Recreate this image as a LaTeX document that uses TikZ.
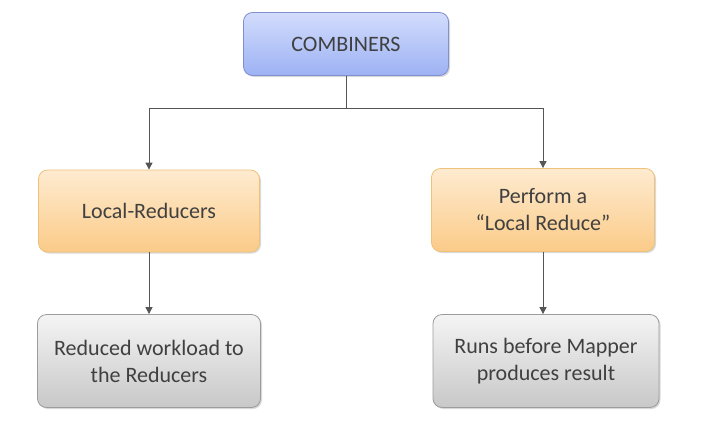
\documentclass[tikz,border=0pt]{standalone}
\usepackage{fontspec}
\setmainfont{Carlito}
\usetikzlibrary{shadows,arrows.meta}
\definecolor{txt}{HTML}{404040}
\definecolor{ln}{HTML}{555555}
\definecolor{blBorder}{HTML}{7F8FD0}
\definecolor{blueTop}{HTML}{D2DCFC}
\definecolor{blueBot}{HTML}{9DB2F4}
\definecolor{orBorder}{HTML}{EEC27A}
\definecolor{orTop}{HTML}{FEEBD0}
\definecolor{orBot}{HTML}{FBCB88}
\definecolor{grBorder}{HTML}{9C9C9C}
\definecolor{grTop}{HTML}{F4F4F4}
\definecolor{grBot}{HTML}{C8C8C8}
\tikzset{
  box/.style={rounded corners=9pt, draw, line width=0.8pt, align=center, text=txt,
    font=\fontsize{22}{27}\selectfont, inner sep=0pt,
    drop shadow={shadow xshift=1.5pt, shadow yshift=-1.5pt, opacity=0.3}},
  bluebox/.style={box, draw=blBorder, top color=blueTop, bottom color=blueBot},
  orangebox/.style={box, draw=orBorder, top color=orTop, bottom color=orBot},
  graybox/.style={box, draw=grBorder, top color=grTop, bottom color=grBot},
  conn/.style={draw=ln, line width=0.9pt},
  arr/.style={conn, -{Triangle[length=7pt,width=7pt]}},
}
\begin{document}
\begin{tikzpicture}[x=1pt,y=-1pt]
\useasboundingbox (0,0) rectangle (715,429);
\node[bluebox, minimum width=205pt, minimum height=63pt] (top) at (346,44) {COMBINERS};
\node[orangebox, minimum width=221pt, minimum height=82pt] (lr) at (149,211) {Local-Reducers};
\node[orangebox, minimum width=223pt, minimum height=83pt] (pl) at (543,210) {Perform a\\``Local Reduce''};
\node[graybox, minimum width=223pt, minimum height=93pt] (rw) at (149,361) {Reduced workload to\\the Reducers};
\node[graybox, minimum width=226pt, minimum height=93pt] (rb) at (546,361) {Runs before Mapper\\produces result};
\coordinate (j) at (346,108);
\draw[conn] (top.south) -- (j);
\draw[arr] (j) -| (lr.north);
\draw[arr] (j) -| (pl.north);
\draw[arr] (lr.south) -- (lr.south |- rw.north);
\draw[arr] (pl.south) -- (pl.south |- rb.north);
\end{tikzpicture}
\end{document}
